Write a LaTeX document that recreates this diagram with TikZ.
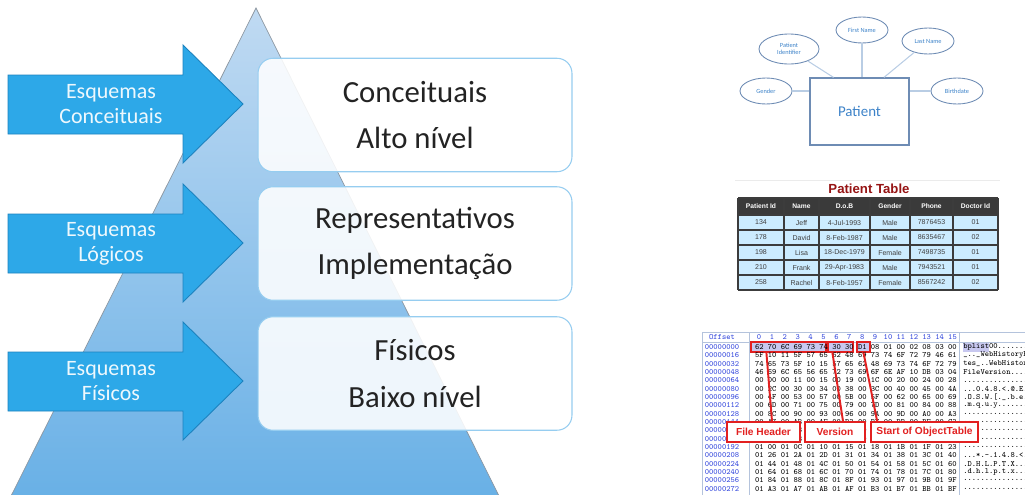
\documentclass[tikz,border=0pt]{standalone}
\usepackage{fontspec}
\setmainfont{Carlito}
\newfontfamily\lsans{Liberation Sans}
\usetikzlibrary{shapes.geometric,calc}

\definecolor{tritop}{RGB}{192,218,242}
\definecolor{tribot}{RGB}{104,176,230}
\definecolor{triedge}{RGB}{140,150,160}
\definecolor{arrowfill}{RGB}{45,168,232}
\definecolor{arrowedge}{RGB}{28,130,190}
\definecolor{boxedge}{RGB}{150,205,240}
\definecolor{boxtext}{RGB}{35,35,35}
\definecolor{erline}{RGB}{185,205,228}
\definecolor{ertext}{RGB}{60,130,200}
\definecolor{eredge}{RGB}{110,140,180}
\definecolor{tabhead}{RGB}{58,58,58}
\definecolor{tabbody}{RGB}{204,236,255}
\definecolor{tabline}{RGB}{60,60,60}
\definecolor{tabtitle}{RGB}{150,20,20}
\definecolor{hexblue}{RGB}{50,70,220}
\definecolor{hexgrid}{RGB}{180,195,220}
\definecolor{hexsel}{RGB}{200,200,240}
\definecolor{hexred}{RGB}{226,32,32}

\begin{document}
\begin{tikzpicture}[x=0.02cm,y=-0.02cm,
  levelbox/.style={draw=boxedge,fill=white,fill opacity=0.88,text opacity=1,
    rounded corners=0.3cm,minimum width=6.28cm,minimum height=2.27cm,align=center,
    text=boxtext,line width=0.6pt,font=\fontsize{17.5pt}{26.6pt}\selectfont},
  arrowshape/.style={fill=arrowfill,draw=arrowedge,line width=0.5pt},
  arrowtext/.style={text=white!92!arrowfill,align=center,font=\fontsize{12.5pt}{14.2pt}\selectfont},
  entity/.style={draw=eredge,line width=0.7pt,minimum width=1.98cm,minimum height=1.34cm,
    text=ertext,font=\fontsize{8.5pt}{9pt}\selectfont},
  attr/.style={ellipse,draw=eredge,line width=0.5pt,minimum width=1.04cm,minimum height=0.52cm,
    inner sep=0pt,text=ertext,align=center,font=\fontsize{3.6pt}{4pt}\selectfont},
  erconn/.style={draw=erline,line width=0.6pt},
  tabtitle/.style={text=tabtitle,font={\lsans\bfseries\fontsize{7.5pt}{8pt}\selectfont}},
  tabgrid/.style={draw=tabline,line width=0.7pt},
  tabhcell/.style={text=white,inner sep=0pt,font={\lsans\bfseries\fontsize{3.8pt}{4pt}\selectfont}},
  tabcell/.style={text=black!75,inner sep=0pt,font={\lsans\fontsize{4pt}{4.5pt}\selectfont}},
  hexfont/.style={inner sep=0pt,font=\ttfamily\fontsize{4.6pt}{5pt}\selectfont},
  hexrow/.style={hexfont,anchor=west},
  offs/.style={hexfont,text=hexblue},
  hlbox/.style={fill=hexsel,draw=hexred,line width=0.7pt,minimum height=0.2cm,inner sep=0pt},
  hexlabel/.style={draw=hexred,line width=1pt,fill=white,text=hexred,minimum height=0.4cm,
    inner sep=0pt,font={\lsans\bfseries\fontsize{5.8pt}{6pt}\selectfont}},
  hexconn/.style={draw=hexred,line width=1.1pt}]

\useasboundingbox (0,0) rectangle (1025,494);

% pyramid
\shade[top color=tritop,bottom color=tribot,draw=triedge,line width=0.4pt]
  (256,8) -- (501,500) -- (9,500) -- cycle;

% arrows on the left
\foreach \dy/\nm/\txt in {0/conc/Esquemas\\Conceituais, 139/logi/Esquemas\\Lógicos, 277/fisi/Esquemas\\Físicos} {
  \filldraw[arrowshape] (8,75+\dy) -- (183,75+\dy) -- (183,45+\dy) -- (243,104+\dy)
    -- (183,163+\dy) -- (183,134+\dy) -- (8,134+\dy) -- cycle;
  \node[arrowtext] (arr\nm) at (111,104.5+\dy) {\txt};
}

% levels
\node[levelbox] (lvlconc) at (415,115) {Conceituais\\Alto nível};
\node[levelbox] (lvllogi) at (415,243.5) {Representativos\\Implementação};
\node[levelbox] (lvlfisi) at (415,373.5) {Físicos\\Baixo nível};

% ER diagram
\node[entity] (pat) at (859.5,111.5) {Patient};
\node[attr] (fname) at (862,30) {First Name};
\node[attr] (lname) at (928,41) {Last Name};
\node[attr,minimum width=1.2cm,minimum height=0.6cm] (pid) at (789,49) {Patient\\Identifier};
\node[attr] (gend) at (766,91) {Gender};
\node[attr] (bdate) at (957,91) {Birthdate};
\draw[erconn] (fname) -- (fname |- pat.north);
\draw[erconn] (lname) -- ($(pat.north)+(24.5,0)$);
\draw[erconn] (pid) -- ($(pat.north)+(-26,0)$);
\draw[erconn] (gend) -- (gend -| pat.west);
\draw[erconn] (bdate) -- (bdate -| pat.east);

% table
\draw[black!8] (735,180) -- (1000,180);
\node[tabtitle] (ttitle) at (869,189) {Patient Table};
\fill[tabhead] (738,198) rectangle (998,215);
\fill[tabbody] (738,215) rectangle (998,290);
\foreach \x in {738,784,819,870,910,953,998} \draw[tabgrid] (\x,198) -- (\x,290);
\foreach \y in {198,215,230,245,260,275,290} \draw[tabgrid] (738,\y) -- (998,\y);
\foreach \hd/\x [count=\c] in {Patient Id/761, Name/801.5, D.o.B/844.5, Gender/890, Phone/931.5, Doctor Id/975.5}
  \node[tabhcell] (h\c) at (\x,206.5) {\hd};
\foreach \pid/\pname/\pdob/\pgen/\pphone/\pdoc [count=\r] in {
    134/Jeff/4-Jul-1993/Male/7876453/01,
    178/David/8-Feb-1987/Male/8635467/02,
    198/Lisa/18-Dec-1979/Female/7498735/01,
    210/Frank/29-Apr-1983/Male/7943521/01,
    258/Rachel/8-Feb-1957/Female/8567242/02} {
  \node[tabcell] (c\r-1) at (761,207.5+15*\r) {\pid};
  \node[tabcell] (c\r-2) at (801.5,207.5+15*\r) {\pname};
  \node[tabcell] (c\r-3) at (844.5,207.5+15*\r) {\pdob};
  \node[tabcell] (c\r-4) at (890,207.5+15*\r) {\pgen};
  \node[tabcell] (c\r-5) at (931.5,207.5+15*\r) {\pphone};
  \node[tabcell] (c\r-6) at (975.5,207.5+15*\r) {\pdoc};
}

% hex dump
\draw[hexgrid] (702,332) rectangle (1030,342);
\draw[hexgrid] (702,342) -- (702,500);
\draw[hexgrid] (749,332) -- (749,500);
\draw[hexgrid] (959,332) -- (959,500);
\node[offs] (offhead) at (722,337) {Offset};
\foreach \i in {0,...,15}
  \node[offs] (col\i) at (759+12.9*\i,337) {\i};
\fill[hexsel] (963,342.5) rectangle (989,351.5);
\node[hlbox,minimum width=1.5cm] (hlhead) at (788.5,347) {};
\node[hlbox,minimum width=0.5cm] (hlver) at (840.5,347) {};
\node[hlbox,minimum width=0.26cm] (hlobj) at (863.5,347) {};
\foreach \off/\hex/\asc [count=\r from 0] in {
    00000000/62 70 6C 69 73 74 30 30 D1 08 01 00 02 08 03 00/{bplist00........},
    00000016/5F 10 11 5F 57 65 62 48 69 73 74 6F 72 79 46 61/{\_..\_WebHistoryFa},
    00000032/74 65 73 5F 10 15 57 65 62 48 69 73 74 6F 72 79/{tes\_..WebHistory},
    00000048/46 69 6C 65 56 65 72 73 69 6F 6E AF 10 DB 03 04/{FileVersion.....},
    00000064/00 00 00 11 00 15 00 19 00 1C 00 20 00 24 00 28/{...............(},
    00000080/00 2C 00 30 00 34 00 38 00 3C 00 40 00 45 00 4A/{...0.4.8.<.@.E.J},
    00000096/00 4F 00 53 00 57 00 5B 00 5F 00 62 00 65 00 69/{.O.S.W.[.\_.b.e.i},
    00000112/00 6D 00 71 00 75 00 79 00 7D 00 81 00 84 00 88/{.m.q.u.y........},
    00000128/00 8C 00 90 00 93 00 96 00 9A 00 9D 00 A0 00 A3/{................},
    00000144/00 A7 00 AB 00 AF 00 B3 00 B7 00 BB 00 BF 00 C3/{................},
    00000160/00 C7 00 CB 00 CF 00 D3 00 D7 00 DB 00 DF 00 E3/{................},
    00000176/00 E7 00 EB 00 EF 00 F3 00 F7 00 FB 00 FF 01 03/{................},
    00000192/01 00 01 0C 01 10 01 15 01 18 01 1B 01 1F 01 23/{................},
    00000208/01 26 01 2A 01 2D 01 31 01 34 01 38 01 3C 01 40/{...*.-.1.4.8.<.@},
    00000224/01 44 01 48 01 4C 01 50 01 54 01 58 01 5C 01 60/{.D.H.L.P.T.X....},
    00000240/01 64 01 68 01 6C 01 70 01 74 01 78 01 7C 01 80/{.d.h.l.p.t.x....},
    00000256/01 84 01 88 01 8C 01 8F 01 93 01 97 01 9B 01 9F/{................},
    00000272/01 A3 01 A7 01 AB 01 AF 01 B3 01 B7 01 BB 01 BF/{................}} {
  \node[offs] (off\r) at (722,347+8.33*\r) {\off};
  \node[hexrow] (hex\r) at (754.7,347+8.33*\r) {\hex};
  \node[hexrow] (asc\r) at (963,347+8.33*\r) {\asc};
}
\node[hexlabel,minimum width=1.46cm] (lbhead) at (763.5,432) {File Header};
\node[hexlabel,minimum width=1.2cm] (lbver) at (835,432) {Version};
\node[hexlabel,minimum width=2.14cm] (lbobj) at (924.5,432) {Start of ObjectTable};
\draw[hexconn] ($(hlhead.south west)+(16,0)$) -- ($(lbhead.north)+(8.5,0)$);
\draw[hexconn] ($(hlver.south west)+(5,0)$) -- ($(lbver.north)+(8,0)$);
\draw[hexconn] (hlobj.south) -- ($(lbobj.north west)+(7,0)$);
\end{tikzpicture}
\end{document}
